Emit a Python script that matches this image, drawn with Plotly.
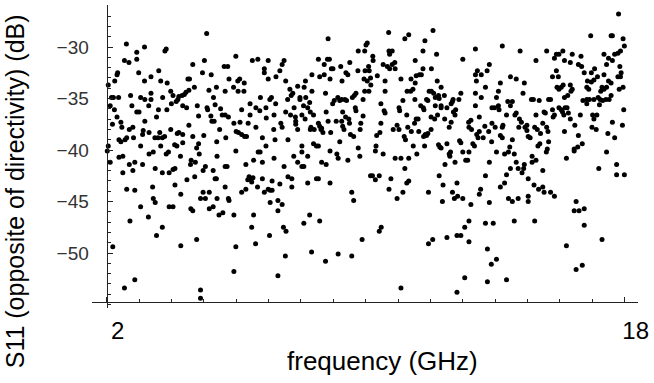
import plotly.graph_objects as go

# (frequency GHz, S11 dB), grouped by frequency band
band_2_6 = [
    (5.09, -28.7), (2.61, -29.7), (3.17, -30.0), (2.93, -30.5), (3.84, -30.2), (3.80, -30.4),
    (2.55, -31.3), (2.69, -31.5), (2.93, -31.2), (5.02, -31.3), (4.66, -31.7), (5.63, -31.9),
    (5.74, -31.9), (3.61, -32.3), (2.99, -32.5), (2.34, -32.5), (2.32, -32.7), (4.96, -32.5),
    (5.23, -32.7), (2.25, -33.3), (2.05, -33.7), (3.37, -32.9), (3.17, -33.3), (3.67, -33.3),
    (3.87, -33.5), (4.51, -33.1), (4.56, -33.1), (5.78, -33.1), (4.71, -33.9), (5.16, -34.2),
    (5.39, -33.9), (5.66, -34.3), (2.15, -34.9), (2.21, -34.9), (2.37, -34.9), (2.74, -34.7),
    (3.05, -34.9), (3.18, -35.1), (3.37, -35.1), (3.37, -34.5), (3.73, -34.9), (3.98, -34.3),
    (4.05, -34.7), (4.23, -34.8), (4.20, -35.1), (4.33, -34.7), (4.40, -34.6), (4.45, -34.4),
    (4.54, -34.2), (5.30, -34.9), (2.11, -35.7), (2.78, -35.7), (2.93, -36.3), (3.00, -36.3),
    (3.30, -35.7), (4.00, -35.5), (4.15, -35.3), (4.35, -35.7), (4.47, -35.9), (4.80, -35.7),
    (5.10, -35.9), (5.12, -36.1), (5.35, -35.6), (5.52, -36.0), (2.24, -36.1), (3.60, -36.1),
    (3.86, -36.1), (2.32, -36.8), (2.44, -37.3), (2.18, -37.5), (2.47, -37.8), (3.18, -37.2),
    (3.54, -36.8), (4.84, -36.7), (5.22, -36.7), (5.25, -37.2), (5.32, -37.2), (5.57, -36.6),
    (5.66, -36.6), (5.76, -36.8), (2.70, -38.0), (2.81, -37.8), (3.13, -38.1), (3.11, -38.5),
    (3.31, -38.3), (3.64, -38.3), (3.98, -38.0), (4.18, -38.4), (4.23, -38.3), (4.54, -37.6),
    (5.49, -38.0), (2.38, -39.0), (2.44, -39.2), (2.57, -39.0), (2.62, -38.8), (2.83, -38.8),
    (3.49, -38.8), (3.59, -38.8), (3.72, -38.8), (3.79, -38.7), (4.35, -38.5), (4.66, -38.7),
    (5.00, -38.6), (5.68, -38.8), (2.05, -39.6), (3.05, -39.6), (3.67, -39.6), (4.10, -39.5),
    (4.17, -39.6), (4.35, -39.3), (4.78, -39.8), (4.84, -39.4), (5.40, -39.2),
    (2.02, -40.1), (2.11, -41.2), (2.38, -40.7), (2.50, -40.6), (2.70, -41.4), (2.87, -41.2),
    (2.50, -42.2), (2.81, -42.0), (3.11, -41.4), (3.31, -40.4), (3.44, -40.2), (3.50, -41.8),
    (3.84, -40.4), (3.91, -40.2), (4.28, -40.6), (4.61, -41.0), (4.59, -41.4), (4.74, -41.2),
    (4.86, -40.4), (5.05, -41.6), (4.98, -42.0), (5.29, -42.0), (5.41, -40.6), (5.66, -41.6),
    (5.72, -41.6), (5.35, -42.8), (5.39, -42.8), (5.66, -43.6), (4.11, -41.8), (4.05, -41.9),
    (3.93, -42.2), (3.72, -42.2), (4.72, -42.6), (4.48, -42.9), (4.11, -43.4), (2.62, -43.8),
    (2.87, -43.9), (3.42, -43.6), (3.44, -44.7), (3.50, -45.1), (4.29, -44.3), (3.05, -45.5),
    (3.93, -45.5), (4.05, -45.5), (4.60, -45.7), (4.66, -45.9), (4.90, -44.7), (5.05, -44.7),
    (4.98, -44.1), (5.17, -44.1), (5.41, -44.7), (5.76, -44.7), (5.78, -44.9), (5.17, -45.7),
    (5.29, -45.5), (5.47, -46.3), (5.59, -46.1), (2.72, -46.9), (3.29, -46.5), (3.72, -47.5),
    (3.54, -48.3), (4.78, -48.7), (4.29, -49.3), (2.19, -49.4), (2.87, -52.6), (2.55, -53.4),
    (4.90, -53.6), (4.90, -54.4),
]

band_6_10 = [
    (8.84, -29.2), (5.99, -30.9), (6.50, -31.3), (6.67, -31.2), (6.99, -31.3), (8.54, -31.2),
    (8.82, -31.2), (8.88, -31.2), (8.72, -31.7), (9.23, -31.9), (7.48, -31.3), (7.42, -31.7),
    (6.87, -32.1), (6.87, -32.5), (7.35, -32.3), (8.99, -32.1), (8.94, -32.1), (9.51, -31.5),
    (9.77, -30.4), (6.11, -33.1), (6.05, -33.3), (6.25, -33.5), (5.92, -33.9), (6.06, -34.3),
    (6.24, -34.3), (6.99, -33.1), (7.23, -32.9), (7.53, -33.3), (7.90, -33.8), (8.10, -33.9),
    (8.14, -33.3), (8.34, -32.7), (8.58, -32.9), (8.72, -32.7), (8.90, -33.1), (9.27, -33.3),
    (9.45, -32.7), (9.39, -32.5), (9.76, -32.3), (7.66, -34.1), (7.75, -34.5), (7.70, -34.7),
    (7.97, -34.9), (7.97, -35.1), (7.59, -35.1), (7.09, -34.9), (7.04, -35.1), (6.75, -34.9),
    (6.43, -35.5), (6.61, -35.9), (6.73, -36.2), (6.92, -35.9), (7.22, -35.5), (8.15, -34.9),
    (8.27, -35.4), (8.08, -35.7), (8.34, -34.3), (8.76, -34.5), (9.14, -34.9), (9.03, -35.2),
    (8.98, -35.5), (9.20, -35.2), (9.26, -35.1), (9.36, -35.1), (9.41, -35.2), (9.59, -34.9),
    (9.65, -34.7), (9.70, -34.5), (9.92, -35.1), (6.17, -36.1), (6.43, -36.6), (6.93, -36.9),
    (7.17, -36.6), (7.53, -36.3), (7.79, -35.9), (7.68, -36.6), (7.83, -36.8), (7.84, -37.2),
    (7.84, -37.5), (8.03, -36.6), (8.13, -37.0), (8.21, -35.9), (8.29, -36.3), (8.39, -36.6),
    (7.90, -38.0), (8.78, -36.3), (8.54, -37.4), (8.58, -37.7), (8.64, -37.9), (8.84, -37.2),
    (9.09, -37.2), (9.26, -37.2), (9.29, -36.3), (9.38, -36.8), (9.48, -37.0), (9.50, -37.4),
    (9.68, -35.9), (9.70, -36.2), (9.85, -37.4), (9.92, -36.7), (5.93, -37.4), (6.12, -37.3),
    (6.37, -37.4), (6.61, -37.8), (6.00, -38.2), (6.07, -38.3), (6.17, -38.5), (6.26, -38.7),
    (6.32, -38.7), (7.16, -38.0), (7.38, -37.4), (7.42, -37.8), (8.29, -38.0), (8.41, -38.0),
    (8.62, -38.0), (8.68, -38.3), (8.31, -37.8), (8.92, -38.3), (9.29, -37.7), (9.33, -38.0),
    (9.53, -38.5), (9.63, -38.7), (9.83, -38.0), (6.81, -38.8), (6.92, -39.6), (7.20, -39.0),
    (7.60, -39.0), (8.03, -39.6), (8.39, -39.4), (8.48, -39.6), (8.54, -39.6), (9.20, -39.2),
    (9.77, -39.8),
    (5.99, -40.1), (6.30, -41.4), (6.54, -41.0), (6.68, -40.2), (6.74, -40.2), (6.81, -41.2),
    (7.17, -40.8), (7.48, -41.6), (7.78, -40.6), (8.03, -40.2), (7.90, -41.2), (8.03, -41.6),
    (8.09, -41.6), (8.21, -40.6), (8.64, -41.2), (8.78, -41.4), (8.90, -40.1), (9.11, -40.4),
    (9.15, -40.8), (9.45, -41.0), (9.82, -40.6), (6.40, -42.6), (6.46, -42.8), (6.48, -43.1),
    (6.52, -42.7), (6.36, -42.9), (6.81, -42.8), (7.11, -43.0), (7.60, -42.6), (7.72, -42.8),
    (7.72, -43.6), (7.35, -43.3), (6.66, -43.6), (6.30, -43.8), (6.17, -44.1), (6.87, -44.1),
    (6.99, -43.8), (7.05, -43.9), (7.11, -43.9), (8.21, -43.2), (8.48, -42.8), (8.54, -42.8),
    (8.90, -43.2), (9.57, -44.1), (9.63, -44.9), (7.05, -45.1), (7.29, -44.9), (7.42, -45.3),
    (7.29, -45.9), (5.93, -46.3), (6.54, -46.3), (6.48, -47.5), (7.46, -47.5), (7.54, -47.9),
    (8.27, -46.3), (8.09, -47.1), (8.58, -46.9), (7.03, -48.3), (6.60, -49.1), (5.99, -49.4),
    (7.52, -50.3), (8.33, -49.9), (8.76, -50.8), (9.15, -50.1), (9.57, -50.3), (9.89, -48.7),
    (5.93, -51.8), (7.29, -52.2),
]

band_10_14 = [
    (12.08, -28.4), (10.71, -28.6), (11.21, -29.2), (11.33, -28.8), (11.83, -29.4), (10.05, -29.6),
    (10.01, -29.8), (9.97, -30.4), (10.72, -30.4), (10.82, -30.4), (10.74, -30.7), (11.77, -30.4),
    (12.19, -30.7), (13.39, -30.2), (13.00, -31.2), (10.22, -30.9), (10.23, -31.3), (11.53, -31.3),
    (10.54, -31.7), (10.90, -31.5), (10.82, -31.7), (10.67, -31.9), (10.74, -32.1), (10.91, -32.1),
    (10.09, -31.9), (9.98, -32.3), (10.11, -32.3), (11.77, -32.1), (12.03, -32.1), (13.82, -31.7),
    (13.75, -32.3), (13.45, -32.3), (13.39, -32.7), (13.57, -32.7), (9.95, -33.1), (10.05, -33.3),
    (10.15, -33.0), (10.36, -32.8), (10.60, -33.3), (11.09, -33.1), (11.40, -33.1), (11.56, -32.8),
    (11.66, -32.7), (11.72, -32.7), (11.53, -33.5), (12.21, -33.3), (12.33, -33.9), (13.42, -33.3),
    (13.70, -33.9), (9.97, -34.3), (10.10, -34.3), (10.16, -33.7), (10.60, -34.3), (11.28, -34.3),
    (11.39, -34.3), (11.46, -34.1), (11.96, -34.3), (12.03, -34.3), (12.10, -34.5), (12.25, -34.7),
    (12.43, -34.7), (12.27, -35.0), (11.88, -35.1), (11.92, -35.2), (12.15, -34.9), (12.94, -34.5),
    (12.88, -35.1), (13.39, -34.5), (13.57, -34.9), (10.47, -35.5), (11.15, -35.2), (11.03, -35.9),
    (11.05, -36.2), (10.57, -36.2), (10.60, -36.4), (11.52, -35.1), (11.70, -35.7), (11.78, -35.9),
    (11.80, -36.1), (12.15, -35.7), (12.33, -35.7), (12.33, -35.9), (12.51, -35.9), (12.64, -35.5),
    (12.70, -35.1), (12.68, -35.3), (12.78, -36.1), (12.71, -36.3), (13.39, -35.7), (13.90, -35.9),
    (13.98, -35.9), (11.27, -36.6), (12.02, -36.8), (12.13, -37.0), (12.22, -36.6), (12.44, -37.0),
    (12.64, -37.3), (11.56, -37.0), (11.62, -37.0), (12.58, -37.8), (12.76, -36.6), (13.18, -37.3),
    (13.25, -37.1), (13.51, -36.8), (13.51, -38.2), (13.68, -37.7), (13.80, -38.2), (13.90, -37.4),
    (13.43, -38.5), (13.47, -38.8), (13.63, -38.8), (13.19, -37.8), (13.27, -38.0), (10.47, -37.4),
    (10.34, -38.6), (10.44, -38.3), (10.97, -37.6), (11.03, -38.0), (11.30, -37.8), (11.51, -37.4),
    (11.64, -38.2), (11.41, -38.2), (11.84, -38.5), (11.88, -38.6), (11.79, -38.7), (11.92, -38.4),
    (12.02, -38.0), (11.19, -38.7), (11.23, -39.0), (10.85, -38.0), (10.32, -39.6), (11.47, -39.6),
    (11.82, -39.6), (12.25, -39.5), (12.33, -39.8), (12.29, -39.7), (12.51, -39.4), (12.90, -39.1),
    (12.94, -39.3), (13.31, -39.4), (13.36, -39.6), (13.89, -39.2),
    (10.30, -40.1), (10.54, -40.4), (10.91, -40.8), (11.09, -40.8), (11.33, -40.8), (11.58, -40.4),
    (11.21, -41.8), (12.45, -41.4), (12.58, -40.4), (12.62, -40.2), (12.60, -40.6), (13.00, -40.2),
    (13.19, -40.2), (13.09, -41.0), (13.15, -41.0), (12.76, -41.2), (13.82, -41.2), (10.15, -42.5),
    (10.21, -42.5), (10.42, -42.5), (10.30, -42.9), (10.78, -42.8), (10.72, -43.8), (11.27, -43.2),
    (11.33, -43.0), (11.15, -44.1), (10.97, -44.7), (12.27, -42.5), (12.39, -43.4), (12.82, -43.2),
    (11.94, -44.1), (12.68, -44.1), (12.37, -45.0), (12.74, -44.7), (12.84, -44.5), (13.00, -44.7),
    (13.25, -45.3), (13.51, -44.3), (13.55, -43.8), (13.70, -42.5), (13.82, -45.1), (10.42, -47.9),
    (10.48, -47.5), (11.94, -49.1), (12.07, -48.7), (12.51, -48.5), (12.82, -48.3), (12.94, -48.3),
    (13.06, -47.5), (13.19, -46.9), (13.19, -48.9), (13.70, -47.1), (13.94, -47.1), (13.76, -49.6),
    (13.88, -51.1), (13.06, -52.4), (13.76, -52.8), (11.09, -53.4), (12.82, -53.8),
]

band_14_18 = [
    (17.81, -26.8), (16.95, -28.9), (17.58, -28.9), (17.62, -28.9), (17.95, -29.2), (17.99, -29.9),
    (14.22, -29.9), (14.77, -30.4), (15.59, -30.4), (15.26, -31.3), (15.83, -31.1), (15.89, -30.7),
    (15.97, -30.7), (16.09, -30.4), (16.38, -30.7), (16.65, -30.9), (16.14, -31.3), (16.32, -31.5),
    (16.57, -31.7), (16.67, -31.9), (17.36, -30.7), (17.50, -31.1), (17.62, -31.3), (17.69, -30.7),
    (17.79, -30.6), (17.87, -30.4), (17.44, -31.7), (17.85, -31.9), (16.75, -32.5), (16.97, -32.5),
    (17.07, -32.1), (15.89, -32.3), (15.77, -32.9), (15.95, -32.9), (14.16, -33.5), (14.47, -32.9),
    (14.65, -33.1), (14.90, -33.5), (14.10, -34.3), (15.91, -33.9), (15.97, -34.1), (16.04, -33.9),
    (16.10, -33.7), (16.32, -33.7), (16.38, -34.1), (16.34, -34.3), (16.85, -33.3), (16.83, -33.9),
    (16.89, -34.1), (16.97, -33.4), (17.05, -33.2), (17.16, -32.9), (17.36, -32.7), (17.50, -33.3),
    (17.58, -33.5), (17.79, -32.9), (17.87, -32.9), (17.44, -33.9), (17.89, -32.5), (17.83, -34.1),
    (17.95, -33.9), (17.26, -34.3), (17.36, -34.1), (17.30, -33.9), (14.86, -34.5), (14.04, -34.9),
    (14.39, -35.3), (14.53, -35.3), (14.47, -35.7), (14.10, -35.7), (14.12, -36.1), (15.12, -35.1),
    (15.18, -35.1), (15.36, -35.2), (15.65, -35.1), (15.71, -35.1), (16.14, -34.9), (16.24, -34.7),
    (16.71, -35.2), (16.83, -35.1), (16.91, -35.1), (16.83, -35.5), (17.05, -35.1), (17.18, -34.9),
    (17.24, -35.1), (17.32, -35.2), (17.22, -35.6), (17.42, -35.1), (17.58, -34.7), (17.52, -35.1),
    (14.35, -36.6), (14.61, -36.6), (14.65, -36.4), (15.26, -36.6), (15.51, -36.3), (15.55, -36.4),
    (15.79, -36.8), (15.83, -36.6), (15.77, -36.1), (15.97, -35.9), (16.04, -36.1), (16.08, -36.3),
    (16.12, -36.6), (16.16, -35.9), (16.22, -35.9), (16.26, -36.4), (16.63, -36.6), (17.01, -36.6),
    (17.05, -37.0), (17.14, -36.6), (17.97, -36.1), (14.00, -37.8), (14.24, -37.6), (14.22, -37.8),
    (14.75, -37.0), (14.81, -37.3), (14.73, -37.8), (14.92, -37.8), (14.98, -37.6), (14.98, -38.1),
    (15.22, -37.8), (15.30, -38.0), (15.47, -37.4), (15.59, -37.8), (15.63, -38.2), (15.40, -38.4),
    (15.02, -38.7), (15.08, -38.8), (14.16, -38.6), (14.22, -38.8), (14.53, -39.0), (16.14, -38.2),
    (16.32, -37.0), (16.46, -37.6), (16.57, -38.6), (16.99, -37.8), (17.12, -38.0), (17.62, -37.3),
    (17.93, -37.6), (17.48, -38.4), (17.69, -38.8), (14.45, -39.7), (15.38, -39.4), (15.32, -39.6),
    (15.65, -39.2), (15.61, -39.9), (16.44, -39.9), (16.55, -39.7), (16.69, -39.4),
    (14.04, -40.2), (14.29, -40.4), (14.41, -40.2), (14.59, -40.4), (15.14, -40.6), (15.58, -40.2),
    (16.20, -40.8), (16.44, -40.1), (17.44, -40.2), (15.26, -41.0), (15.14, -41.2), (14.90, -41.4),
    (14.65, -41.2), (14.47, -41.8), (14.71, -41.8), (14.83, -42.2), (14.88, -41.8), (15.47, -42.0),
    (14.35, -42.4), (14.29, -43.2), (14.16, -43.6), (15.02, -42.8), (15.20, -43.4), (15.34, -43.8),
    (15.47, -43.6), (15.51, -44.1), (15.71, -44.1), (15.83, -44.5), (14.41, -44.7), (14.53, -45.0),
    (14.71, -44.7), (15.02, -44.5), (15.02, -45.0), (17.20, -41.8), (17.75, -41.4), (17.75, -42.4),
    (17.99, -42.4), (16.50, -45.0), (16.44, -45.9), (16.59, -45.9), (16.75, -45.7), (16.75, -47.3),
    (14.59, -46.9), (15.22, -46.9), (16.20, -49.3), (17.30, -48.7), (14.04, -50.6), (16.50, -51.6),
    (16.69, -51.2), (14.35, -52.6),
]

x_tick_vals = [2, 6, 10, 14, 18]
x_tick_text = ["2", "", "", "", "18"]
x_minor_vals = list(range(2, 19))
y_tick_vals = [-50, -45, -40, -35, -30]
y_tick_text = ["\u221250", "\u221245", "\u221240", "\u221235", "\u221230"]
y_minor_vals = list(range(-55, -25))

bands = [band_2_6, band_6_10, band_10_14, band_14_18]
freq = [p[0] for b in bands for p in b]
s11 = [p[1] for b in bands for p in b]

FONT = "Liberation Sans, Arial, Helvetica, sans-serif"
W, H = 654, 383
L, R, T, B = 92, 14, 5, 75
X0, X1 = 1.548, 18.411
Y0, Y1 = -55.34, -25.922
X_AXIS_AT = -54.757
Y_AXIS_AT = 2.0

fig = go.Figure(
    go.Scatter(x=freq, y=s11, mode="markers",
               marker=dict(color="black", size=5, line=dict(width=0)),
               hoverinfo="skip")
)

pw = W - L - R
ph = H - T - B

fig.update_layout(
    width=W, height=H,
    margin=dict(l=L, r=R, t=T, b=B, pad=0),
    paper_bgcolor="white", plot_bgcolor="white",
    showlegend=False,
    font=dict(family=FONT, color="black"),
    xaxis=dict(
        range=[X0, X1], anchor="free",
        position=(X_AXIS_AT - Y0) / (Y1 - Y0),
        showline=True, linecolor="#222", linewidth=1,
        showgrid=False, zeroline=False,
        tickmode="array", tickvals=x_tick_vals, ticktext=x_tick_text,
        ticks="inside", ticklen=5, tickcolor="#222", tickwidth=1,
        tickfont=dict(family=FONT, size=24, color="black"),
        ticklabelshift=11, ticklabelstandoff=7,
        minor=dict(tickmode="array", tickvals=x_minor_vals, ticks="inside",
                   ticklen=3, tickcolor="#222", tickwidth=1, showgrid=False),
    ),
    yaxis=dict(
        range=[Y0, Y1], anchor="free",
        position=(Y_AXIS_AT - X0) / (X1 - X0),
        showline=True, linecolor="#222", linewidth=1,
        showgrid=False, zeroline=False,
        tickmode="array", tickvals=y_tick_vals, ticktext=y_tick_text,
        ticks="inside", ticklen=5, tickcolor="#222", tickwidth=1,
        tickfont=dict(family=FONT, size=19, color="#333"),
        ticklabelstandoff=14,
        minor=dict(tickmode="array", tickvals=y_minor_vals, ticks="inside",
                   ticklen=3, tickcolor="#222", tickwidth=1, showgrid=False),
    ),
    annotations=[
        dict(text="frequency (GHz)", xref="paper", yref="paper",
             x=(384 - L) / pw, y=(H - B - 361) / ph,
             xanchor="center", yanchor="middle", showarrow=False,
             font=dict(family=FONT, size=26, color="black")),
        dict(text="S11 (opposite of directivity) (dB)", xref="paper", yref="paper",
             x=(15 - L) / pw, y=(H - B - 191) / ph, textangle=-90,
             xanchor="center", yanchor="middle", showarrow=False,
             font=dict(family=FONT, size=25, color="black")),
    ],
)

fig.write_html("out.html")
